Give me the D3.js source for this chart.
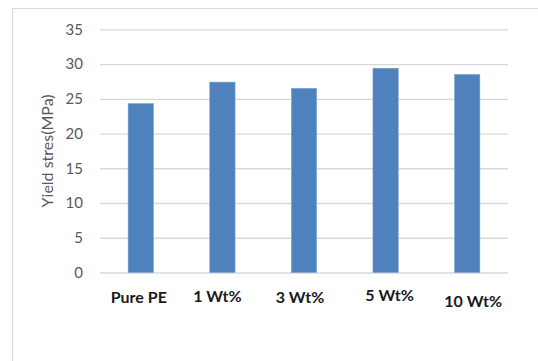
<!DOCTYPE html>
<html>
<head>
<meta charset="utf-8">
<script src="https://cdn.jsdelivr.net/npm/d3@7"></script>
<style>
  html, body { margin: 0; padding: 0; background: #fff; }
  svg { display: block; }
</style>
</head>
<body>
<svg id="chart" width="538" height="361"></svg>
<script>
// Yield stress of PE samples by filler loading
const categories = ["Pure PE", "1 Wt%", "3 Wt%", "5 Wt%", "10 Wt%"];
const yieldStress = [24.3, 27.4, 26.5, 29.4, 28.5];
const yTicks = [0, 5, 10, 15, 20, 25, 30, 35];
const yTitle = "Yield stres(MPa)";

const svg = d3.select("#chart");
const W = 538, H = 361;
const plot = { left: 100, right: 508, top: 29.3, bottom: 272.5 };
const font = "Lato, 'Open Sans', sans-serif";

// chart frame
svg.append("rect")
  .attr("x", 12.5).attr("y", 8.5)
  .attr("width", W).attr("height", H)
  .attr("fill", "#fff")
  .attr("stroke", "#d9d9d9").attr("stroke-width", 1);

const x = d3.scaleBand()
  .domain(categories)
  .range([plot.left, plot.right])
  .paddingInner(0.69)
  .paddingOuter(0.345);

const y = d3.scaleLinear()
  .domain([0, 35])
  .range([plot.bottom, plot.top]);

// gridlines + tick labels
const yAxis = d3.axisLeft(y)
  .tickValues(yTicks)
  .tickSize(-(plot.right - plot.left))
  .tickPadding(17);

const gy = svg.append("g")
  .attr("transform", `translate(${plot.left},0)`)
  .call(yAxis);
gy.select(".domain").remove();
gy.selectAll(".tick line").attr("stroke", "#d9d9d9").attr("stroke-width", 1.3);
gy.selectAll(".tick text")
  .attr("fill", "#595959")
  .style("font-family", font)
  .style("font-size", "15px");

// bars
svg.append("g").selectAll("rect")
  .data(categories)
  .join("rect")
  .attr("x", d => x(d))
  .attr("width", x.bandwidth())
  .attr("y", (d, i) => y(yieldStress[i]))
  .attr("height", (d, i) => y(0) - y(yieldStress[i]))
  .attr("fill", "#4f81bd")
  .attr("stroke", "#7ea2d0")
  .attr("stroke-width", 0.6);

// category labels, each hand-nudged a little off its band centre
const labelNudge = [[-2, 0], [-5, -1], [-4, 0], [4, -2], [6, 4]];
const xAxis = d3.axisBottom(x).tickSize(0).tickPadding(19);
const gx = svg.append("g")
  .attr("transform", `translate(0,${plot.bottom})`)
  .call(xAxis);
gx.select(".domain").remove();
gx.selectAll(".tick text")
  .attr("transform", (d, i) => `translate(${labelNudge[i][0]},${labelNudge[i][1]})`)
  .attr("fill", "#1a1a1a")
  .style("font-family", font)
  .style("font-weight", "bold")
  .style("font-size", "16px");

// y-axis title
svg.append("text")
  .attr("transform", `translate(53,${(plot.top + plot.bottom) / 2}) rotate(-90)`)
  .attr("text-anchor", "middle")
  .attr("fill", "#595959")
  .style("font-family", font)
  .style("font-size", "16px")
  .text(yTitle);
</script>
</body>
</html>
